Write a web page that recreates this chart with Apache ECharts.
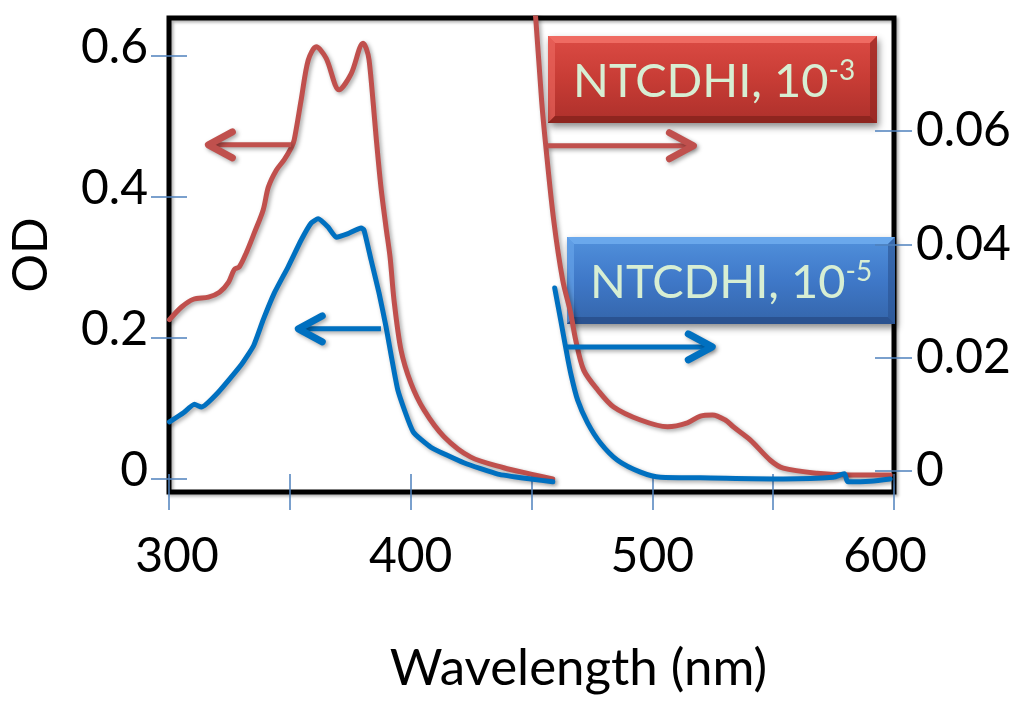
<!DOCTYPE html>
<html><head><meta charset="utf-8">
<script src="https://cdn.jsdelivr.net/npm/echarts@6/dist/echarts.min.js"></script>
<style>html,body{margin:0;padding:0;background:#fff}#c{width:1024px;height:706px}</style>
</head><body><div id="c"></div>
<script>
// ---- data ----
const xTicks = [300, 350, 400, 450, 500, 550, 600];
const leftTicks = [0, 0.2, 0.4, 0.6];
const rightTicks = [0, 0.02, 0.04, 0.06];

// NTCDHI 1e-3 M, left (OD) axis
const redLeft = [[300.2,0.226],[305.2,0.244],[310.1,0.255],[316.3,0.258],[320.9,0.265],[324.6,0.279],[327.0,0.297],[329.1,0.301],[332.0,0.321],[335.3,0.349],[339.0,0.382],[341.1,0.414],[344.4,0.438],[347.7,0.453],[350.6,0.470],[351.8,0.481],[354.7,0.538],[357.6,0.594],[360.9,0.613],[365.0,0.597],[370.4,0.552],[375.4,0.575],[380.3,0.618],[381.6,0.611],[382.8,0.594],[384.5,0.533],[385.7,0.485],[387.7,0.414],[389.8,0.357],[391.5,0.314],[393.1,0.254],[396.0,0.183],[400.1,0.136],[405.5,0.098],[413.8,0.060],[424.9,0.031],[438.5,0.016],[449.7,0.007],[458.8,0.000]];
// NTCDHI 1e-5 M, left (OD) axis
const blueLeft = [[300.2,0.081],[306.0,0.094],[310.5,0.106],[313.4,0.102],[320.4,0.123],[329.9,0.162],[335.0,0.189],[339.0,0.226],[343.6,0.264],[349.3,0.301],[354.7,0.339],[358.8,0.363],[361.7,0.369],[365.9,0.357],[369.2,0.343],[374.1,0.348],[379.5,0.356],[380.7,0.353],[383.6,0.311],[386.9,0.264],[389.8,0.216],[394.7,0.126],[401.0,0.067],[408.4,0.045],[422.0,0.023],[436.1,0.007],[449.7,0.000],[458.8,-0.004]];
// NTCDHI 1e-3 M, right axis
const redRight = [[450.5,0.0849],[451.8,0.0796],[454.2,0.0653],[455.9,0.0574],[459.2,0.0442],[462.9,0.0337],[466.2,0.0279],[468.3,0.0231],[471.6,0.0178],[477.4,0.0143],[484.0,0.0113],[495.1,0.0090],[506.3,0.0078],[514.5,0.0085],[519.9,0.0097],[524.9,0.0099],[530.2,0.0090],[533.5,0.0078],[540.5,0.0055],[548.8,0.0019],[554.2,0.0005],[568.2,-0.0004],[581.8,-0.0007],[598.4,-0.0007]];
// NTCDHI 1e-5 M, right axis
const blueRight = [[459.6,0.0323],[462.1,0.0266],[464.1,0.0219],[466.2,0.0173],[469.1,0.0125],[473.2,0.0085],[478.6,0.0049],[485.6,0.0019],[495.1,-0.0002],[503.4,-0.0011],[519.9,-0.0012],[554.2,-0.0014],[574.8,-0.0011],[579.4,-0.0005],[581.0,-0.0019],[590.1,-0.0018],[598.4,-0.0014]];

// arrows (data coords): [seriesIndex, fromX, toX, y]
const arrowSeries = [0, 2, 1, 3];
const arrowFrom = [350.6, 456.3, 387.7, 464.6];
const arrowTo = [316.3, 517.0, 353.5, 524.8];
const arrowY = [0.474, 0.0574, 0.213, 0.0219];

const labelTexts = ['NTCDHI, 10', 'NTCDHI, 10'];
const labelSups = ['-3', '-5'];

// ---- styles ----
const FONT = 'Lato, "Open Sans", sans-serif';
const RED = '#c0504d', BLUE = '#0070c0';
const TICK = '#4f81bd';
const shadow = {shadowColor:'rgba(0,0,0,0.35)', shadowBlur:4, shadowOffsetX:2, shadowOffsetY:2};

const chart = echarts.init(document.getElementById('c'));

function mkSeries(data, color, yi, smooth) {
  return {type:'line', data, xAxisIndex:0, yAxisIndex:yi, symbol:'none', smooth,
    lineStyle:Object.assign({color, width:5, cap:'round', join:'round'}, shadow),
    itemStyle:{color}, clip:true};
}
const tickStyle = {color:TICK, width:1.5};
const axisText = {fontFamily:FONT, fontSize:48, color:'#000'};

chart.setOption({
  animation:false,
  backgroundColor:'#fff',
  grid:{left:168, top:18, width:726, height:474, show:true, borderColor:'#000', borderWidth:5,
        backgroundColor:'transparent', shadowColor:'rgba(0,0,0,0.3)', shadowBlur:3, shadowOffsetX:2, shadowOffsetY:2},
  xAxis:{type:'value', min:xTicks[0], max:xTicks[xTicks.length-1], interval:50, position:'bottom', offset:18,
    axisLine:{show:false, onZero:false}, splitLine:{show:false},
    axisTick:{show:true, inside:true, length:36, lineStyle:tickStyle},
    axisLabel:Object.assign({margin:23, hideOverlap:false,
      formatter:v => (v === 300 ? '{a|300}' : v === 600 ? '{b|600}' : (v % 100 === 0 ? String(v) : '')),
      rich:{a:Object.assign({padding:[0,0,0,16]}, axisText), b:Object.assign({padding:[0,18,0,0]}, axisText)}}, axisText),
    name:'Wavelength (nm)', nameLocation:'middle', nameGap:133, nameMoveOverlap:false,
    nameTextStyle:{fontFamily:FONT, fontSize:51, color:'#000', padding:[0,0,0,94]}},
  yAxis:[
    {type:'value', min:-0.01844, max:0.6539, position:'left', offset:18,
     axisLine:{show:false, onZero:false}, splitLine:{show:false},
     axisTick:{show:true, inside:true, length:36, customValues:leftTicks, lineStyle:tickStyle},
     axisLabel:Object.assign({customValues:leftTicks, margin:3,
        formatter:v => '{v|' + (v === 0 ? '0' : v.toFixed(1)) + '}',
        rich:{v:Object.assign({padding:[0,0,16,0]}, axisText)}}, axisText),
     name:'OD', nameLocation:'middle', nameRotate:90, nameGap:95, nameMoveOverlap:false, nameTextStyle:axisText},
    {type:'value', min:-0.003706, max:0.07994, position:'right', offset:18,
     axisLine:{show:false, onZero:false}, splitLine:{show:false},
     axisTick:{show:true, inside:true, length:37, customValues:rightTicks, lineStyle:tickStyle},
     axisLabel:Object.assign({customValues:rightTicks, margin:4,
        formatter:v => (v === 0 ? '0' : v.toFixed(2))}, axisText)}
  ],
  series:[
    mkSeries(redLeft, RED, 0, 0.3),
    mkSeries(blueLeft, BLUE, 0, 0.15),
    mkSeries(redRight, RED, 1, 0.3),
    mkSeries(blueRight, BLUE, 1, 0.3)
  ]
});

// ---- annotations ----
const graphics = [];
for (let i = 0; i < arrowSeries.length; i++) {
  const si = arrowSeries[i];
  const color = (si % 2 === 0) ? RED : BLUE;
  const p0 = chart.convertToPixel({seriesIndex:si}, [arrowFrom[i], arrowY[i]]);
  const p1 = chart.convertToPixel({seriesIndex:si}, [arrowTo[i], arrowY[i]]);
  const dir = p1[0] < p0[0] ? 1 : -1; // arms go back toward the start
  graphics.push({type:'line', z:50, shape:{x1:p0[0], y1:p0[1], x2:p1[0], y2:p1[1]},
    style:Object.assign({stroke:color, lineWidth:5, lineCap:'butt'}, shadow)});
  graphics.push({type:'polyline', z:50, shape:{points:[[p1[0]+dir*24, p1[1]-13],[p1[0], p1[1]],[p1[0]+dir*24, p1[1]+13]]},
    style:Object.assign({stroke:color, lineWidth:7, lineCap:'round', lineJoin:'round', fill:null}, shadow)});
}

const TXT = '#d7eed3';
function box(x, y, w, h, c, textX, i) {
  return {type:'group', z:60, children:[
    {type:'rect', shape:{x, y, width:w, height:h},
     style:{fill:new echarts.graphic.LinearGradient(0,0,0,1,[{offset:0,color:c[0]},{offset:0.5,color:c[1]},{offset:1,color:c[2]}]),
            shadowColor:'rgba(0,0,0,0.45)', shadowBlur:7, shadowOffsetX:2, shadowOffsetY:4}},
    {type:'polygon', shape:{points:[[x,y],[x+w,y],[x+w-7,y+7],[x+7,y+7]]}, style:{fill:c[3]}},
    {type:'polygon', shape:{points:[[x,y],[x+7,y+7],[x+7,y+h-7],[x,y+h]]}, style:{fill:c[3], opacity:0.6}},
    {type:'polygon', shape:{points:[[x,y+h],[x+w,y+h],[x+w-7,y+h-7],[x+7,y+h-7]]}, style:{fill:c[4]}},
    {type:'polygon', shape:{points:[[x+w,y],[x+w-7,y+7],[x+w-7,y+h-7],[x+w,y+h]]}, style:{fill:c[4], opacity:0.6}},
    {type:'text', x:textX, y:y+h/2+2, style:{text:'{a|' + labelTexts[i] + '}{s|' + labelSups[i] + '}',
      align:'left', verticalAlign:'middle', fill:TXT,
      rich:{a:{fontFamily:FONT, fontSize:47, fill:TXT, lineHeight:50},
            s:{fontFamily:FONT, fontSize:28, fill:TXT, verticalAlign:'top', lineHeight:30}}}}
  ]};
}
graphics.push(box(548, 36, 329, 87, ['#dc4b44','#c73c35','#ad302b','#ef6b62','#8e251f'], 573, 0));
graphics.push(box(567, 237, 328, 87, ['#5191dc','#3f78c8','#3465aa','#6aa8ec','#2a5290'], 590, 1));

chart.setOption({graphic:graphics});
</script>
</body></html>
